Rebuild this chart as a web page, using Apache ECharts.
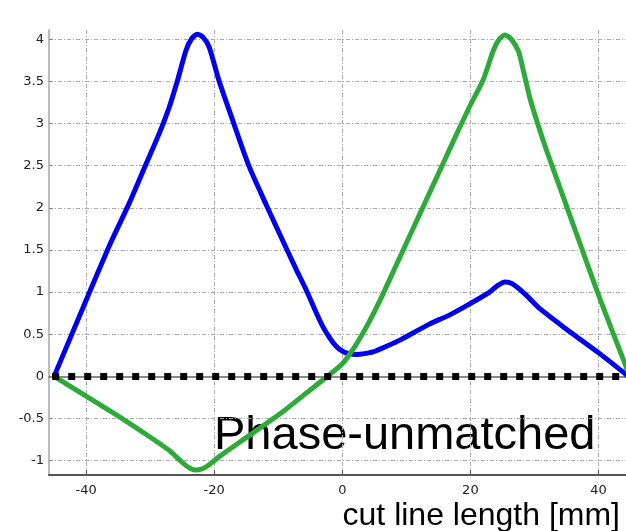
<!DOCTYPE html>
<html>
<head>
<meta charset="utf-8">
<script src="https://cdn.jsdelivr.net/npm/echarts@6/dist/echarts.min.js"></script>
<style>html,body{margin:0;padding:0;background:#fff}#c{width:626px;height:531px}</style>
</head>
<body>
<div id="c"></div>
<script>
// ---- data ----
var xTicks = [-40, -20, 0, 20, 40];
var yTicks = [-1, -0.5, 0, 0.5, 1, 1.5, 2, 2.5, 3, 3.5, 4];

var blueX = [-45, -39.8, -36.2, -33.3, -30.7, -28.6, -27.0, -25.7, -24.4, -23.5, -22.6, -21.7, -20.8, -19.3, -17.4, -14.6, -11.9, -9.6, -7.2, -5.6, -4.1, -3.1, -2.0, -1.0, 0.0, 1.0, 2.2, 3.5, 4.8, 7.0, 9.0, 13.6, 16.8, 19.9, 23.0, 24.3, 25.4, 26.5, 28.5, 30.9, 35.0, 40.2, 45];
var blueY = [0, 0.94, 1.58, 2.05, 2.51, 2.88, 3.20, 3.52, 3.87, 4.01, 4.06, 4.02, 3.91, 3.52, 3.10, 2.50, 2.04, 1.66, 1.27, 1.02, 0.76, 0.60, 0.46, 0.36, 0.30, 0.27, 0.26, 0.27, 0.29, 0.36, 0.43, 0.62, 0.73, 0.86, 1.00, 1.08, 1.12, 1.10, 0.98, 0.80, 0.56, 0.27, -0.02];

var greenX = [-45, -35.4, -30.2, -27.0, -26.0, -25.0, -24.0, -23.0, -22.0, -21.0, -20.0, -19.0, -14.5, -9.3, -5.5, -2.5, 0.0, 2.0, 4.0, 6.0, 8.0, 10.0, 12.0, 14.0, 16.0, 18.0, 20.0, 22.0, 23.6, 24.5, 25.4, 26.4, 27.5, 28.3, 29.3, 30.5, 31.9, 34.5, 37.1, 39.7, 42.3, 45];
var greenY = [0, -0.45, -0.71, -0.88, -0.95, -1.02, -1.08, -1.11, -1.10, -1.06, -1.00, -0.94, -0.70, -0.42, -0.19, -0.01, 0.15, 0.36, 0.62, 0.92, 1.25, 1.58, 1.91, 2.24, 2.57, 2.90, 3.22, 3.52, 3.87, 4.00, 4.05, 4.00, 3.86, 3.62, 3.30, 3.00, 2.68, 2.13, 1.58, 1.03, 0.51, -0.02];

var zeroX = [-45.3, 45];
var zeroY = [0, 0];

var xLabel = 'cut line length [mm]';
var noteText = 'Phase-unmatched';

function pairs(xs, ys) { return xs.map(function (x, i) { return [x, ys[i]]; }); }

var chart = echarts.init(document.getElementById('c'), null, { renderer: 'canvas' });
var gridLine = { show: true, lineStyle: { color: '#aaa', width: 1, type: [4, 2, 1, 2] } };
chart.setOption({
  animation: false,
  backgroundColor: '#fff',
  grid: { left: 49, right: 0, top: 30, bottom: 56, containLabel: false },
  xAxis: [{
    type: 'value', min: -45.8, max: 44.3,
    axisLine: { show: true, onZero: false, lineStyle: { color: '#555', width: 2 } },
    axisTick: { show: true, inside: true, length: 5, customValues: xTicks, lineStyle: { color: '#555' } },
    axisLabel: { customValues: xTicks, color: '#222', fontSize: 13, fontFamily: 'DejaVu Sans', margin: 9 },
    splitLine: gridLine
  }, {
    type: 'value', position: 'top', min: -45.8, max: 44.3,
    axisLine: { show: true, lineStyle: { color: '#888', width: 2 } },
    axisTick: { show: false }, axisLabel: { show: false }, splitLine: { show: false }
  }],
  yAxis: {
    type: 'value', min: -1.17, max: 4.11,
    axisLine: { show: true, onZero: false, lineStyle: { color: '#bbb', width: 2 } },
    axisTick: { show: true, inside: true, length: 4, customValues: yTicks, lineStyle: { color: '#888' } },
    axisLabel: { customValues: yTicks, color: '#222', fontSize: 13, fontFamily: 'DejaVu Sans', margin: 5 },
    splitLine: gridLine
  },
  series: [{
    type: 'line', data: pairs(blueX, blueY), showSymbol: false, smooth: 0.25,
    lineStyle: { color: '#0000ee', width: 5 }, z: 3
  }, {
    type: 'line', data: pairs(greenX, greenY), showSymbol: false, smooth: 0.25,
    lineStyle: { color: '#2eaa3a', width: 5 }, z: 4
  }, {
    type: 'line', data: pairs(zeroX, zeroY), showSymbol: false,
    lineStyle: { color: '#000', width: 7, type: [7, 9], cap: 'butt' }, z: 5
  }],
  graphic: [{
    type: 'text', right: 6, top: 500,
    style: { text: xLabel, font: '32px "Liberation Sans", Arial, sans-serif', fill: '#000' }
  }, {
    type: 'text', left: 214, top: 413,
    style: { text: noteText, font: '47px "Liberation Sans", Arial, sans-serif', fill: '#000' }
  }]
});
</script>
</body>
</html>
